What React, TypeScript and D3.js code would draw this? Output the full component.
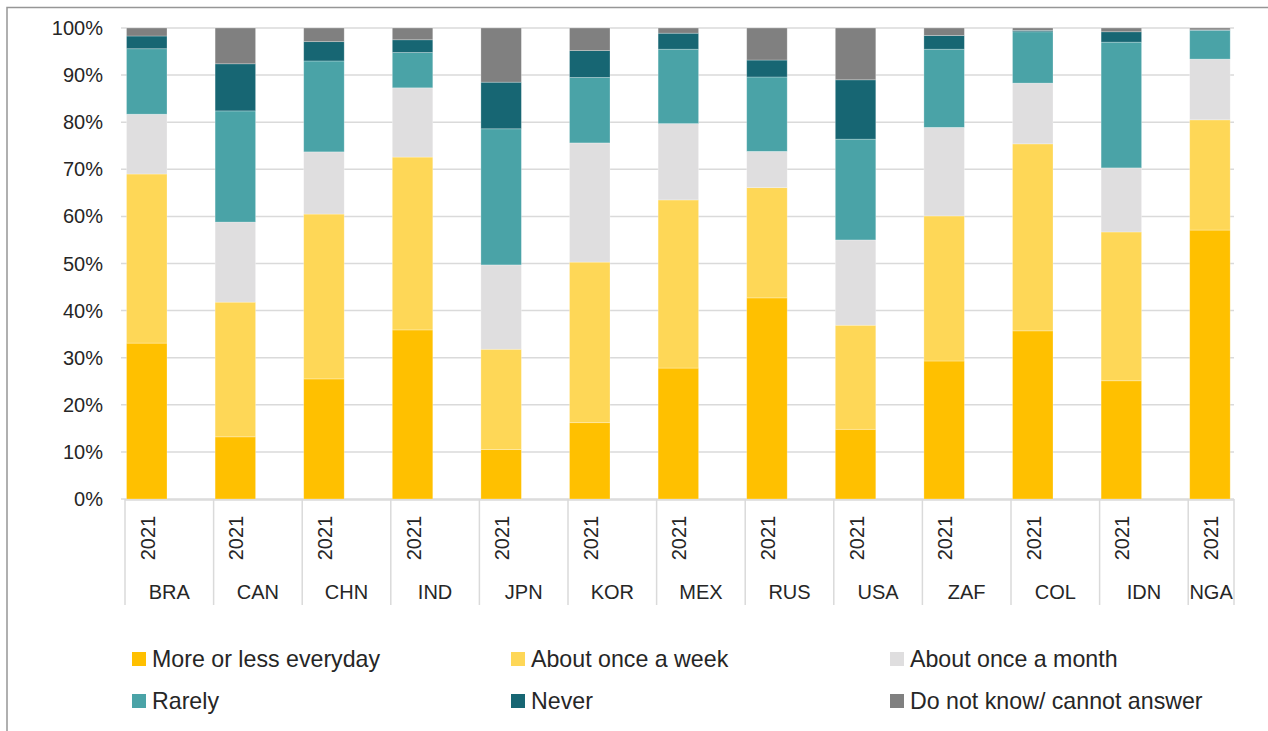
import React from 'react';
import * as d3 from 'd3';

const WIDTH = 1268;
const HEIGHT = 731;

const countries = ['BRA', 'CAN', 'CHN', 'IND', 'JPN', 'KOR', 'MEX', 'RUS', 'USA', 'ZAF', 'COL', 'IDN', 'NGA'];
const year = '2021';

const seriesNames = [
  'More or less everyday',
  'About once a week',
  'About once a month',
  'Rarely',
  'Never',
  'Do not know/ cannot answer',
];
const seriesColors = ['#FFC000', '#FED757', '#DFDEDF', '#4AA3A7', '#176673', '#808080'];

// shares per country, in percent
const everyday = [33.1, 13.2, 25.5, 35.9, 10.5, 16.2, 27.8, 42.7, 14.8, 29.3, 35.7, 25.1, 57.1];
const weekly = [35.9, 28.6, 35.0, 36.7, 21.3, 34.1, 35.7, 23.4, 22.1, 30.8, 39.7, 31.6, 23.4];
const monthly = [12.7, 17.0, 13.2, 14.7, 17.9, 25.3, 16.2, 7.7, 18.1, 18.8, 12.9, 13.6, 12.9];
const rarely = [13.9, 23.6, 19.3, 7.5, 28.9, 13.9, 15.8, 15.8, 21.4, 16.6, 10.9, 26.7, 6.1];
const never = [2.7, 10.0, 4.1, 2.7, 9.9, 5.7, 3.4, 3.6, 12.6, 2.9, 0.3, 2.2, 0.1];
const dontKnow = [1.7, 7.6, 2.9, 2.5, 11.5, 4.8, 1.1, 6.8, 11.0, 1.6, 0.5, 0.8, 0.4];

const yTicks = [0, 10, 20, 30, 40, 50, 60, 70, 80, 90, 100];

const left = 125;
const plotRight = 1234;
const top = 28;
const bottom = 499;
const step = 88.6;

const FONT = '"Liberation Sans", Arial, sans-serif';

export default function App() {
  const rows = countries.map((c, i) => ({
    country: c,
    s0: everyday[i],
    s1: weekly[i],
    s2: monthly[i],
    s3: rarely[i],
    s4: never[i],
    s5: dontKnow[i],
  }));
  const keys = ['s0', 's1', 's2', 's3', 's4', 's5'];
  const stacked = d3.stack<any>().keys(keys)(rows);

  const x = d3.scaleBand().domain(countries).range([left, left + step * countries.length]).padding(0);
  const y = d3.scaleLinear().domain([0, 100]).range([bottom, top]);
  const bw = x.bandwidth();
  const barOff = bw * 0.017;
  const barW = bw * 0.457;

  return (
    <svg
      xmlns="http://www.w3.org/2000/svg"
      width={WIDTH}
      height={HEIGHT}
      style={{ position: 'absolute', left: 0, top: 0, background: '#fff' }}
      fontFamily={FONT}
    >
      <defs>
        <clipPath id="plot">
          <rect x={left - 5} y={0} width={plotRight - left + 5} height={HEIGHT} />
        </clipPath>
      </defs>
      <path d={`M7,${HEIGHT} V7.5 H${WIDTH}`} fill="none" stroke="#969696" strokeWidth={1.5} />

      {/* gridlines */}
      <g>
        {yTicks.map(t => (
          <line key={t} x1={left - 4} x2={plotRight} y1={y(t)} y2={y(t)} stroke="#DADADA" strokeWidth={1.5} />
        ))}
      </g>

      {/* bars */}
      <g clipPath="url(#plot)">
        {stacked.map((layer, li) => (
          <g key={li} fill={seriesColors[li]}>
            {layer.map((d, i) => (
              <rect
                key={i}
                x={(x(countries[i]) as number) + barOff}
                width={barW}
                y={y(d[1])}
                height={Math.max(0, y(d[0]) - y(d[1]))}
                stroke="rgba(255,255,255,0.35)"
                strokeWidth={0.75}
              />
            ))}
          </g>
        ))}
      </g>

      {/* y axis labels */}
      <g fontSize={20} fill="#262626" textAnchor="end">
        {yTicks.map(t => (
          <text key={t} x={103} y={y(t)} dy="0.35em">{t}%</text>
        ))}
      </g>

      {/* category axis */}
      <g>
        <line x1={left} x2={plotRight} y1={bottom + 1} y2={bottom + 1} stroke="#DADADA" strokeWidth={1.5} />
        {countries.map(c => (
          <line key={c} x1={x(c) as number} x2={x(c) as number} y1={bottom} y2={605} stroke="#DADADA" strokeWidth={1.5} />
        ))}
        <line x1={plotRight} x2={plotRight} y1={bottom} y2={605} stroke="#DADADA" strokeWidth={1.5} />
        {countries.map(c => {
          const cx = (x(c) as number) + barOff + barW / 2;
          const lx = Math.min((x(c) as number) + bw / 2, ((x(c) as number) + plotRight) / 2);
          return (
            <g key={c} fontSize={20} fill="#262626">
              <text transform={`translate(${cx + 1},538) rotate(-90)`} textAnchor="middle" dy="0.35em">{year}</text>
              <text x={lx} y={599} textAnchor="middle">{c}</text>
            </g>
          );
        })}
      </g>

      {/* legend */}
      <g fontSize={23.2} fill="#262626">
        {seriesNames.map((n, i) => {
          const col = i % 3;
          const row = Math.floor(i / 3);
          const lx = 132 + col * 379;
          const ly = 659 + row * 42;
          return (
            <g key={n}>
              <rect x={lx} y={ly - 7} width={14} height={14} fill={seriesColors[i]} />
              <text x={lx + 20} y={ly} dy="0.36em">{n}</text>
            </g>
          );
        })}
      </g>
    </svg>
  );
}
